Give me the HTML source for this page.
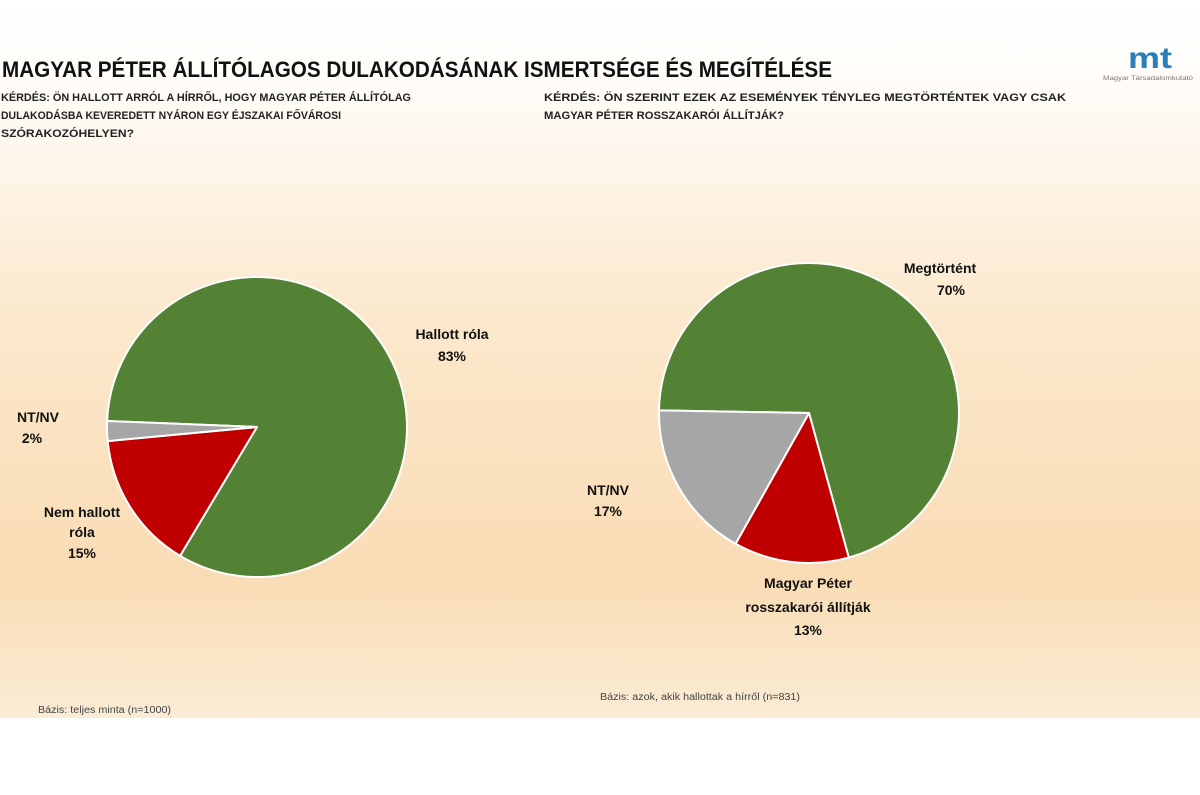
<!DOCTYPE html>
<html><head><meta charset="utf-8"><style>
html,body{margin:0;padding:0;background:#fff;}
svg{display:block;font-family:"Liberation Sans",sans-serif;}
</style></head><body>
<svg width="1200" height="795" viewBox="0 0 1200 795" xmlns="http://www.w3.org/2000/svg">
<defs>
<linearGradient id="bg" x1="0" y1="0" x2="0" y2="1">
<stop offset="0" stop-color="#ffffff"/>
<stop offset="0.12" stop-color="#fffcf8"/>
<stop offset="0.45" stop-color="#fbe8cc"/>
<stop offset="0.8" stop-color="#f9dcb4"/>
<stop offset="0.93" stop-color="#fae6c9"/>
<stop offset="1" stop-color="#fbecd6"/>
</linearGradient>
</defs>
<rect x="0" y="0" width="1200" height="718" fill="url(#bg)"/>
<rect x="0" y="718" width="1200" height="77" fill="#fff"/>

<text x="2" y="77" font-size="22" font-weight="bold" fill="#111" textLength="830" lengthAdjust="spacingAndGlyphs">MAGYAR PÉTER ÁLLÍTÓLAGOS DULAKODÁSÁNAK ISMERTSÉGE ÉS MEGÍTÉLÉSE</text>

<g font-size="11" font-weight="bold" fill="#222">
<text x="1" y="101" textLength="410" lengthAdjust="spacingAndGlyphs">KÉRDÉS: ÖN HALLOTT ARRÓL A HÍRRŐL, HOGY MAGYAR PÉTER ÁLLÍTÓLAG</text>
<text x="1" y="119" textLength="340" lengthAdjust="spacingAndGlyphs">DULAKODÁSBA KEVEREDETT NYÁRON EGY ÉJSZAKAI FŐVÁROSI</text>
<text x="1" y="137" textLength="133" lengthAdjust="spacingAndGlyphs">SZÓRAKOZÓHELYEN?</text>
<text x="544" y="101" textLength="522" lengthAdjust="spacingAndGlyphs">KÉRDÉS: ÖN SZERINT EZEK AZ ESEMÉNYEK TÉNYLEG MEGTÖRTÉNTEK VAGY CSAK</text>
<text x="544" y="119" textLength="240" lengthAdjust="spacingAndGlyphs">MAGYAR PÉTER ROSSZAKARÓI ÁLLÍTJÁK?</text>
</g>

<!-- logo -->
<text x="1128" y="68" font-size="30" font-weight="bold" fill="#2a7fb8" textLength="44" lengthAdjust="spacingAndGlyphs">mt</text>
<text x="1103" y="80" font-size="6" fill="#777" textLength="90" lengthAdjust="spacingAndGlyphs">Magyar Társadalomkutató</text>

<!-- pie 1 -->
<g stroke="#fff" stroke-width="2" stroke-linejoin="round">
<path d="M257 427 L107.1 421 A150 150 0 1 1 180.1 555.8 Z" fill="#548235"/>
<path d="M257 427 L180.1 555.8 A150 150 0 0 1 107.7 441.1 Z" fill="#c00000"/>
<path d="M257 427 L107.7 441.1 A150 150 0 0 1 107.1 421 Z" fill="#a6a6a6"/>
</g>
<!-- pie 2 -->
<g stroke="#fff" stroke-width="2" stroke-linejoin="round">
<path d="M809 413 L659 410.4 A150 150 0 1 1 848.8 557.6 Z" fill="#548235"/>
<path d="M809 413 L848.8 557.6 A150 150 0 0 1 735.6 543.8 Z" fill="#c00000"/>
<path d="M809 413 L735.6 543.8 A150 150 0 0 1 659 410.4 Z" fill="#a6a6a6"/>
</g>

<g font-size="14" font-weight="bold" fill="#111" text-anchor="middle">
<text x="452" y="339">Hallott róla</text>
<text x="452" y="361">83%</text>
<text x="38" y="422">NT/NV</text>
<text x="32" y="443">2%</text>
<text x="82" y="517">Nem hallott</text>
<text x="82" y="537">róla</text>
<text x="82" y="558">15%</text>
<text x="940" y="273">Megtörtént</text>
<text x="951" y="295">70%</text>
<text x="608" y="495">NT/NV</text>
<text x="608" y="516">17%</text>
<text x="808" y="588">Magyar Péter</text>
<text x="808" y="612">rosszakarói állítják</text>
<text x="808" y="635">13%</text>
</g>

<g font-size="10" fill="#444">
<text x="38" y="713" textLength="133" lengthAdjust="spacingAndGlyphs">Bázis: teljes minta (n=1000)</text>
<text x="600" y="700" textLength="200" lengthAdjust="spacingAndGlyphs">Bázis: azok, akik hallottak a hírről (n=831)</text>
</g>
</svg>
</body></html>
